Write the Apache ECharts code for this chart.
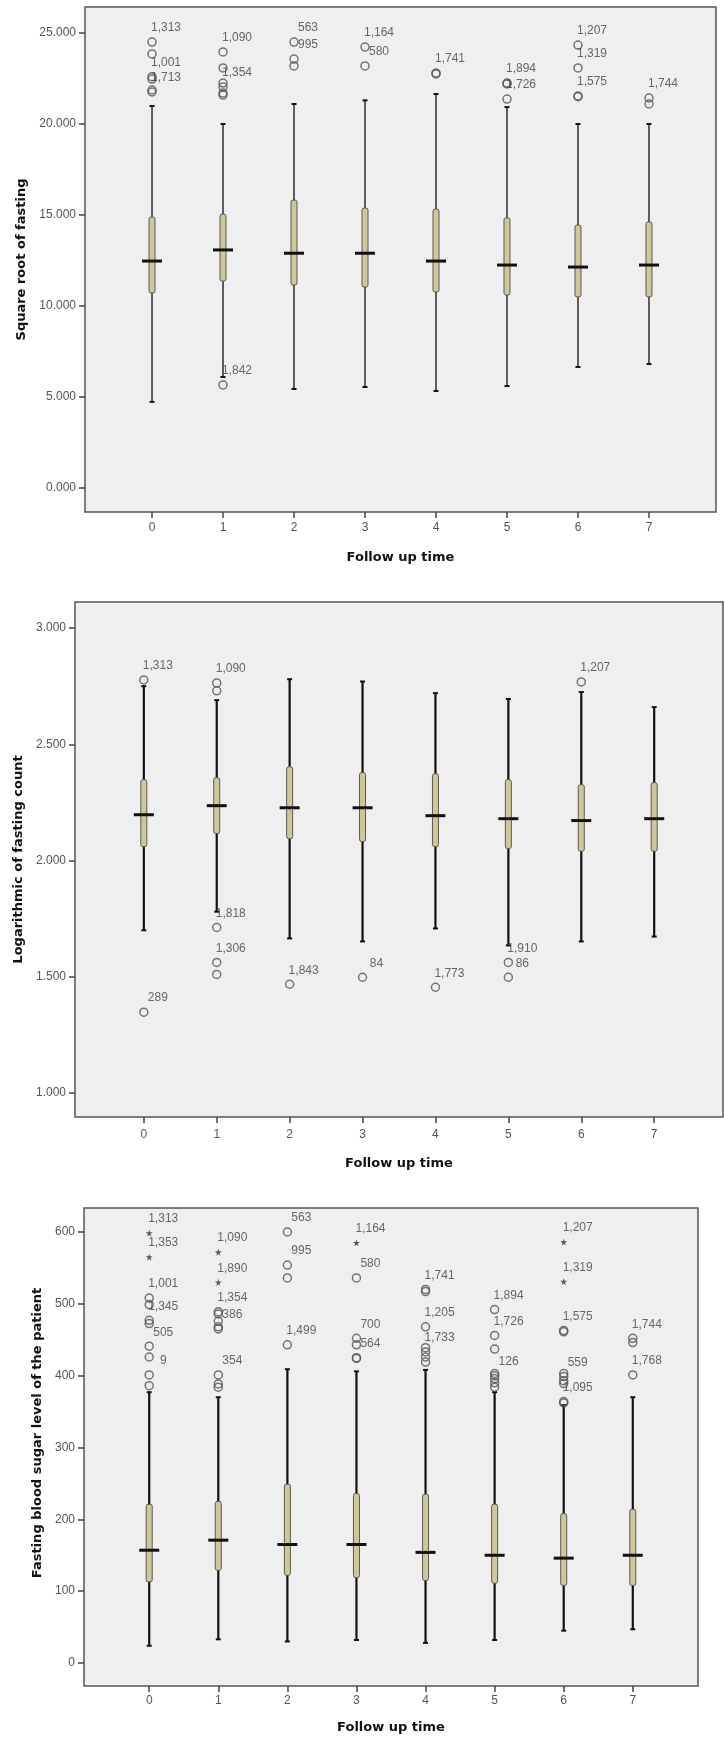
<!DOCTYPE html>
<html>
<head>
<meta charset="utf-8">
<script src="https://cdn.jsdelivr.net/npm/echarts@6/dist/echarts.min.js"></script>
<style>
  html, body { margin: 0; padding: 0; background: #fff; }
  #main { width: 724px; height: 1740px; }
</style>
</head>
<body>
<div id="main"></div>
<script>
const followUp = [0, 1, 2, 3, 4, 5, 6, 7]

// panel 1: square root of fasting
const sqrtTicks = [0, 5, 10, 15, 20, 25]
const sqrtLow = [4.73, 6.1, 5.44, 5.55, 5.33, 5.6, 6.65, 6.81]
const sqrtQ1 = [10.71, 11.37, 11.15, 11.04, 10.77, 10.6, 10.5, 10.5]
const sqrtMedian = [12.47, 13.08, 12.9, 12.9, 12.47, 12.25, 12.14, 12.25]
const sqrtQ3 = [14.89, 15.05, 15.82, 15.38, 15.33, 14.84, 14.45, 14.62]
const sqrtHigh = [20.99, 20.0, 21.1, 21.3, 21.65, 20.93, 20.0, 20.0]
const sqrtOutliers = [
  [0, 24.5, '1,313'], [0, 23.85, ''], [0, 22.6, '1,001'], [0, 22.47, ''], [0, 21.87, ''], [0, 21.76, '1,713'],
  [1, 23.96, '1,090'], [1, 23.08, ''], [1, 22.25, ''], [1, 22.03, '1,354'], [1, 21.7, ''], [1, 21.59, ''], [1, 5.66, '1,842'],
  [2, 24.5, '563'], [2, 23.57, '995'], [2, 23.19, ''],
  [3, 24.23, '1,164'], [3, 23.19, '580'],
  [4, 22.8, '1,741'], [4, 22.75, ''],
  [5, 22.25, '1,894'], [5, 22.2, ''], [5, 21.37, '1,726'],
  [6, 24.34, '1,207'], [6, 23.08, '1,319'], [6, 21.54, '1,575'], [6, 21.5, ''],
  [7, 21.43, '1,744'], [7, 21.1, '']
]

// panel 2: logarithmic of fasting count
const logTicks = [1, 1.5, 2, 2.5, 3]
const logLow = [1.70, 1.78, 1.665, 1.652, 1.708, 1.635, 1.652, 1.673]
const logQ1 = [2.06, 2.116, 2.094, 2.082, 2.06, 2.052, 2.04, 2.04]
const logMedian = [2.197, 2.236, 2.227, 2.227, 2.193, 2.18, 2.172, 2.18]
const logQ3 = [2.348, 2.356, 2.403, 2.378, 2.373, 2.348, 2.326, 2.335]
const logHigh = [2.75, 2.69, 2.78, 2.77, 2.72, 2.695, 2.725, 2.66]
const logOutliers = [
  [0, 2.777, '1,313'], [0, 1.348, '289'],
  [1, 2.764, '1,090'], [1, 2.73, ''], [1, 1.712, '1,818'], [1, 1.562, '1,306'], [1, 1.51, ''],
  [2, 1.468, '1,843'], [3, 1.498, '84'], [4, 1.455, '1,773'],
  [5, 1.562, '1,910'], [5, 1.498, '86'],
  [6, 2.768, '1,207']
]

// panel 3: fasting blood sugar level
const sugarTicks = [0, 100, 200, 300, 400, 500, 600]
const sugarLow = [24, 33, 30, 32, 28, 32, 45, 47]
const sugarQ1 = [113, 129, 122, 119, 115, 111, 108, 108]
const sugarMedian = [157, 171, 165, 165, 154, 150, 146, 150]
const sugarQ3 = [221, 225, 249, 236, 235, 221, 208, 214]
const sugarHigh = [377, 370, 409, 406, 408, 377, 359, 370]
const sugarOutliers = [
  [0, 508, '1,001'], [0, 499, ''], [0, 477, '1,345'], [0, 472.5, ''], [0, 441, '505'], [0, 426, ''], [0, 401, '9'], [0, 386, ''],
  [1, 489, '1,354'], [1, 486, ''], [1, 476, ''], [1, 468, ''], [1, 465, '386'], [1, 401, '354'], [1, 388.5, ''], [1, 384, ''],
  [2, 600, '563'], [2, 554, '995'], [2, 536, ''], [2, 443, '1,499'],
  [3, 536, '580'], [3, 452, '700'], [3, 443, ''], [3, 425, '564'], [3, 424, ''],
  [4, 520, '1,741'], [4, 517, ''], [4, 468, '1,205'], [4, 439, ''], [4, 433, '1,733'], [4, 426, ''], [4, 419, ''],
  [5, 492, '1,894'], [5, 456, '1,726'], [5, 437, ''], [5, 403, ''], [5, 400, '126'], [5, 396, ''], [5, 390, ''], [5, 384, ''],
  [6, 463, '1,575'], [6, 461, ''], [6, 403, ''], [6, 399, '559'], [6, 393, ''], [6, 389, ''], [6, 364, '1,095'], [6, 362, ''],
  [7, 452, '1,744'], [7, 446, ''], [7, 401, '1,768']
]
const sugarExtremes = [
  [0, 598.6, '1,313'], [0, 565, '1,353'],
  [1, 572, '1,090'], [1, 530, '1,890'],
  [3, 585, '1,164'],
  [6, 586, '1,207'], [6, 531, '1,319']
]

const labelFont = "'Liberation Sans', Arial, sans-serif"
const titleFont = "'DejaVu Sans', Verdana, sans-serif"
const starPath = 'path://M50,0 L61,35 L98,35 L68,57 L79,91 L50,70 L21,91 L32,57 L2,35 L39,35 Z'

function boxRows(low, q1, med, q3, high) {
  return followUp.map((c, i) => [c, low[i], q1[i], med[i], q3[i], high[i]])
}

function renderBox(whiskerColor, whiskerWidth) {
  return function (params, api) {
    const x = api.value(0)
    const low = api.coord([x, api.value(1)])
    const q1 = api.coord([x, api.value(2)])
    const med = api.coord([x, api.value(3)])
    const q3 = api.coord([x, api.value(4)])
    const high = api.coord([x, api.value(5)])
    const cx = low[0]
    return {
      type: 'group',
      children: [
        { type: 'line', shape: { x1: cx, y1: high[1], x2: cx, y2: low[1] }, style: { stroke: whiskerColor, lineWidth: whiskerWidth } },
        { type: 'line', shape: { x1: cx - 2.5, y1: high[1], x2: cx + 2.5, y2: high[1] }, style: { stroke: '#111', lineWidth: 2 } },
        { type: 'line', shape: { x1: cx - 2.5, y1: low[1], x2: cx + 2.5, y2: low[1] }, style: { stroke: '#111', lineWidth: 2 } },
        { type: 'rect', shape: { x: cx - 3, y: q3[1], width: 6, height: q1[1] - q3[1], r: 2 }, style: { fill: '#cdc79b', stroke: '#5b5a4c', lineWidth: 1 } },
        { type: 'line', shape: { x1: cx - 10, y1: med[1], x2: cx + 10, y2: med[1] }, style: { stroke: '#111', lineWidth: 3 } }
      ]
    }
  }
}

function outlierLabel() {
  return {
    show: true,
    position: 'inside',
    offset: [14, -14],
    formatter: p => p.data[2],
    color: '#444',
    fontSize: 12,
    fontFamily: labelFont
  }
}

function makeX(gridIndex, labelMargin, nameGap) {
  return {
    gridIndex,
    type: 'value',
    min: -0.944,
    max: 7.944,
    name: 'Follow up time',
    nameLocation: 'middle',
    nameGap,
    nameTextStyle: { fontFamily: titleFont, fontWeight: 'bold', fontSize: 13, color: '#111' },
    axisLine: { show: false, onZero: false },
    axisTick: { show: true, length: 6, customValues: followUp, lineStyle: { color: '#444', width: 1.5 } },
    axisLabel: { customValues: followUp, margin: labelMargin, color: '#555', fontSize: 12, fontFamily: labelFont },
    splitLine: { show: false }
  }
}

function makeY(gridIndex, min, max, ticks, digits, name, nameGap, namePad) {
  return {
    gridIndex,
    type: 'value',
    min,
    max,
    name,
    nameLocation: 'middle',
    nameGap,
    nameTextStyle: { fontFamily: titleFont, fontWeight: 'bold', fontSize: 13, color: '#111', padding: namePad },
    axisLine: { show: false, onZero: false },
    axisTick: { show: true, length: 6, customValues: ticks, lineStyle: { color: '#444', width: 1.5 } },
    axisLabel: { customValues: ticks, margin: 9, color: '#555', fontSize: 12, fontFamily: labelFont,
      formatter: v => v.toFixed(digits) },
    splitLine: { show: false }
  }
}

const gridStyle = { show: true, backgroundColor: '#efefef', borderColor: '#555', borderWidth: 1.5 }

const chart = echarts.init(document.getElementById('main'))
chart.setOption({
  animation: false,
  grid: [
    Object.assign({ left: 85, top: 7, width: 631, height: 505 }, gridStyle),
    Object.assign({ left: 75, top: 602, width: 648, height: 515 }, gridStyle),
    Object.assign({ left: 84, top: 1208, width: 614, height: 478 }, gridStyle)
  ],
  xAxis: [makeX(0, 10, 39), makeX(1, 12, 40), makeX(2, 9, 35)],
  yAxis: [
    makeY(0, -1.32, 26.43, sqrtTicks, 3, 'Square root of fasting', 52, 0),
    makeY(1, 0.897, 3.112, logTicks, 3, 'Logarithmic of fasting count', 41, 0),
    makeY(2, -32, 633.4, sugarTicks, 0, 'Fasting blood sugar level of the patient', 28, [0, 0, 0, 28])
  ],
  series: [
    { type: 'custom', xAxisIndex: 0, yAxisIndex: 0, renderItem: renderBox('#3a3a3a', 1.6),
      data: boxRows(sqrtLow, sqrtQ1, sqrtMedian, sqrtQ3, sqrtHigh), encode: { x: 0, y: [1, 2, 3, 4, 5] }, silent: true },
    { type: 'scatter', xAxisIndex: 0, yAxisIndex: 0, data: sqrtOutliers, symbol: 'circle', symbolSize: 8,
      itemStyle: { color: 'rgba(0,0,0,0)', borderColor: '#555', borderWidth: 1.5 }, label: outlierLabel(), silent: true },

    { type: 'custom', xAxisIndex: 1, yAxisIndex: 1, renderItem: renderBox('#111', 2.2),
      data: boxRows(logLow, logQ1, logMedian, logQ3, logHigh), encode: { x: 0, y: [1, 2, 3, 4, 5] }, silent: true },
    { type: 'scatter', xAxisIndex: 1, yAxisIndex: 1, data: logOutliers, symbol: 'circle', symbolSize: 8,
      itemStyle: { color: 'rgba(0,0,0,0)', borderColor: '#555', borderWidth: 1.5 }, label: outlierLabel(), silent: true },

    { type: 'custom', xAxisIndex: 2, yAxisIndex: 2, renderItem: renderBox('#111', 2.2),
      data: boxRows(sugarLow, sugarQ1, sugarMedian, sugarQ3, sugarHigh), encode: { x: 0, y: [1, 2, 3, 4, 5] }, silent: true },
    { type: 'scatter', xAxisIndex: 2, yAxisIndex: 2, data: sugarOutliers, symbol: 'circle', symbolSize: 8,
      itemStyle: { color: 'rgba(0,0,0,0)', borderColor: '#555', borderWidth: 1.5 }, label: outlierLabel(), silent: true },
    { type: 'scatter', xAxisIndex: 2, yAxisIndex: 2, data: sugarExtremes, symbol: starPath, symbolSize: 7,
      itemStyle: { color: '#333' }, label: outlierLabel(), silent: true }
  ]
})
</script>
</body>
</html>
